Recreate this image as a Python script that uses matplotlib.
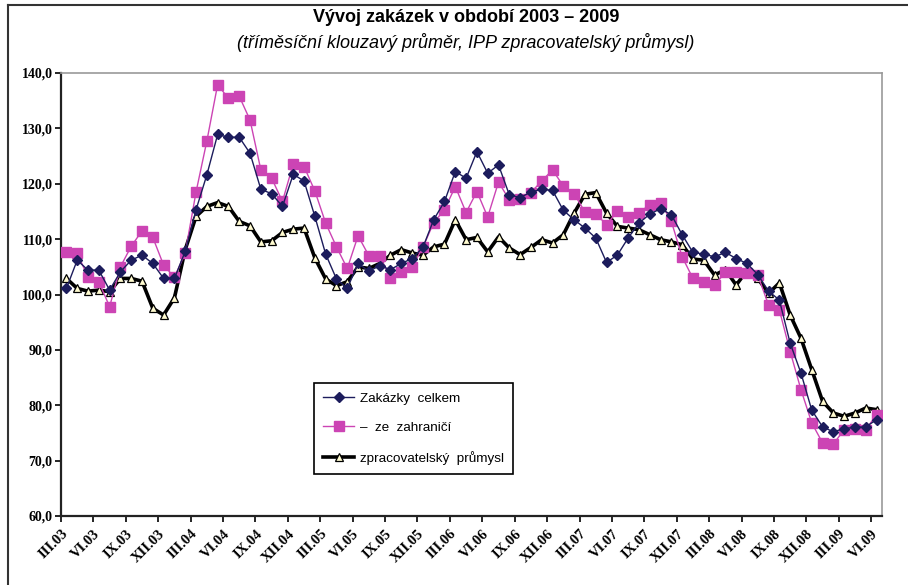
import matplotlib
matplotlib.use("Agg")
import matplotlib.pyplot as plt
from matplotlib.lines import Line2D
import numpy as np

# ---- data ----
tick_labels = ["III.03", "VI.03", "IX.03", "XII.03", "III.04", "VI.04", "IX.04", "XII.04",
               "III.05", "VI.05", "IX.05", "XII.05", "III.06", "VI.06", "IX.06", "XII.06",
               "III.07", "VI.07", "IX.07", "XII.07", "III.08", "VI.08", "IX.08", "XII.08",
               "III.09", "VI.09"]

zakazky_celkem = [101.1, 106.2, 104.4, 104.4, 100.8, 104.1, 106.2, 107.1, 105.6, 102.9,
                  102.9, 107.8, 115.3, 121.6, 128.9, 128.4, 128.4, 125.5, 119.0, 118.2,
                  115.9, 121.7, 120.5, 114.1, 107.3, 102.8, 101.1, 105.6, 104.2, 105.2,
                  104.5, 105.6, 106.5, 108.5, 113.5, 116.8, 122.2, 121.0, 125.8, 121.9,
                  123.4, 118.0, 117.5, 118.5, 119.0, 118.8, 115.2, 113.5, 112.0, 110.2,
                  105.8, 107.1, 110.2, 112.9, 114.5, 115.5, 114.4, 110.8, 107.6, 107.3,
                  106.8, 107.6, 106.5, 105.6, 103.6, 100.6, 99.0, 91.2, 85.8, 79.1,
                  76.1, 75.2, 75.8, 76.0, 76.1, 77.4]

ze_zahranici = [107.7, 107.5, 103.1, 102.3, 97.8, 105.0, 108.7, 111.5, 110.3, 105.3,
                103.1, 107.5, 118.5, 127.7, 137.9, 135.4, 135.8, 131.5, 122.5, 121.0,
                116.8, 123.6, 123.1, 118.7, 112.9, 108.6, 104.7, 110.6, 107.0, 107.0,
                103.0, 104.0, 105.0, 108.5, 113.0, 115.3, 119.5, 114.8, 118.6, 114.0,
                120.3, 117.1, 117.3, 118.4, 120.5, 122.5, 119.6, 118.2, 114.9, 114.6,
                112.6, 115.0, 114.0, 114.8, 116.2, 116.6, 113.2, 106.8, 102.9, 102.3,
                101.7, 104.0, 104.0, 103.9, 103.5, 98.1, 97.2, 89.7, 82.8, 76.8,
                73.2, 73.0, 75.6, 75.7, 75.6, 78.3]

zpracovatelsky = [102.9, 101.1, 100.6, 100.8, 100.5, 102.9, 102.9, 102.4, 97.5, 96.3,
                  99.4, 108.1, 114.1, 115.9, 116.6, 115.9, 113.2, 112.4, 109.5, 109.7,
                  111.2, 111.8, 112.0, 106.6, 102.8, 101.6, 102.3, 105.0, 104.7, 105.6,
                  107.1, 108.1, 107.5, 107.1, 108.6, 109.1, 113.5, 109.9, 110.3, 107.7,
                  110.4, 108.4, 107.2, 108.5, 109.9, 109.3, 110.8, 114.7, 118.1, 118.4,
                  114.7, 112.3, 112.0, 111.7, 110.8, 109.9, 109.5, 109.0, 106.4, 106.2,
                  103.5, 104.5, 101.7, 104.3, 102.9, 100.2, 102.1, 96.3, 92.1, 86.4,
                  80.7, 78.6, 78.0, 78.6, 79.5, 79.2]

series_names = ["Zakázky  celkem", "–  ze  zahraničí", "zpracovatelský  průmysl"]
y_ticks = [60, 70, 80, 90, 100, 110, 120, 130, 140]

# ---- figure ----
W, H = 908, 585
fig = plt.figure(figsize=(W / 100, H / 100), dpi=100)
fig.patch.set_facecolor("white")

# outer frame
fig.add_artist(Line2D([8 / W, 8 / W], [0, 1 - 5 / H], color="#333333", lw=1.5,
                      transform=fig.transFigure))
fig.add_artist(Line2D([8 / W, 1.0], [1 - 5 / H, 1 - 5 / H], color="#333333", lw=1.5,
                      transform=fig.transFigure))

ax = fig.add_axes([61 / W, 1 - 516 / H, (882 - 61) / W, (516 - 73) / H])

x = np.arange(len(zakazky_celkem))
navy = "#1c1c5c"
pink = "#cc44b4"

ax.plot(x, zpracovatelsky, color="black", lw=2.6, marker="^", markersize=5.5,
        markerfacecolor="#fffbd0", markeredgecolor="black", markeredgewidth=0.9,
        label=series_names[2], zorder=2)
ax.plot(x, ze_zahranici, color=pink, lw=1.0, marker="s", markersize=6.5,
        markerfacecolor=pink, markeredgecolor=pink, label=series_names[1], zorder=3)
ax.plot(x, zakazky_celkem, color=navy, lw=1.0, marker="D", markersize=4.8,
        markerfacecolor=navy, markeredgecolor=navy, label=series_names[0], zorder=4)

ax.set_xlim(-0.5, len(x) - 0.5)
ax.set_ylim(60, 140)

ax.set_yticks(y_ticks)
ax.set_yticklabels([f"{v:.1f}".replace(".", ",") for v in y_ticks],
                   family=["Liberation Serif", "DejaVu Serif"], fontweight="bold",
                   fontsize=10)
tick_pos = np.arange(0, len(x), 3) - 0.5
ax.set_xticks(tick_pos)
ax.set_xticklabels(tick_labels, rotation=45, ha="right", va="top", rotation_mode="anchor",
                   family=["Liberation Serif", "DejaVu Serif"], fontweight="bold",
                   fontsize=10.5)
ax.tick_params(axis="both", direction="out", length=4, width=1.2, color="black")
ax.tick_params(axis="x", pad=4)
ax.tick_params(axis="y", pad=2)

for s in ["left", "bottom"]:
    ax.spines[s].set_color("#222222")
    ax.spines[s].set_linewidth(1.6)
for s in ["top", "right"]:
    ax.spines[s].set_color("#999999")
    ax.spines[s].set_linewidth(1.2)

# legend (order as in reference)
handles, labels = ax.get_legend_handles_labels()
order = [2, 1, 0]
leg = ax.legend([handles[i] for i in order], [labels[i] for i in order],
                loc="lower left", bbox_to_anchor=(0.300, 0.079), frameon=True,
                fancybox=False, edgecolor="black", framealpha=1, borderpad=0.7,
                labelspacing=1.25, handlelength=2.3, handletextpad=0.4,
                prop={"family": ["Liberation Sans", "DejaVu Sans"], "size": 9.7})
leg.get_frame().set_linewidth(1.2)

# titles
fig.text(466 / W, 1 - 18 / H, "Vývoj zakázek v období 2003 – 2009", ha="center", va="center",
         fontsize=13, fontweight="bold", family=["Liberation Sans", "DejaVu Sans"])
fig.text(466 / W, 1 - 43 / H, "(tříměsíční klouzavý průměr, IPP zpracovatelský průmysl)",
         ha="center", va="center", fontsize=13, style="italic",
         family=["Liberation Sans", "DejaVu Sans"])

fig.savefig("out.png", dpi=100, facecolor="white")
